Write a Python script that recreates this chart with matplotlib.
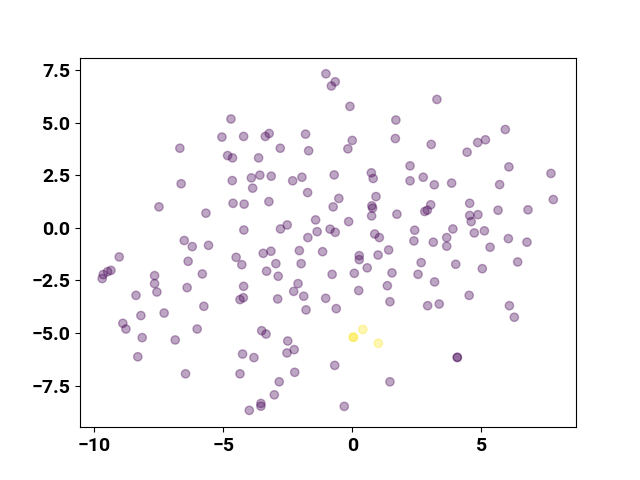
import numpy as np
import matplotlib
matplotlib.use("Agg")
from matplotlib import pyplot as plt

# scatter points (x, y), with a cluster label for colour
xs = [-4.70, -5.05, -4.21, -6.68, -4.83, -4.64, -4.65, -6.63, -7.49, -4.62,
      -4.19, -5.67, -4.20, -6.51, -6.20, -5.57, -9.03, -4.50, -4.28, -6.36,
      -9.35, -9.48, -9.65, -9.69, -7.66, -7.66, -7.57, -5.81, -6.40, -8.38,
      -4.21, -4.35, -4.22, -5.75, -8.19, -7.29, -8.89, -8.77, -8.14, -6.86,
      -6.01, -8.31, -6.46, -4.25, -4.35,
      -1.02, -0.66, -0.81, -0.09, 1.69, 1.67, -3.37, -3.22, -1.81, -2.79,
      -1.69, 0.00, -0.17, -3.63, 2.24, -3.91, -3.58, -3.14, -2.31, -1.95,
      -0.70, 0.74, 0.81,
      -3.86, -1.73, -3.23, -0.52, -0.74, 0.92, 0.76, 0.79, 0.75, 1.73,
      -2.78, -2.52, -1.42, -0.14, -1.36, -1.72, -0.86, -0.66, 0.87, 1.05,
      -3.45, -3.15, -2.05, -1.15, -2.96, -1.98, -3.32, -2.87, 0.27, 0.27,
      1.00, 1.41, 0.58, -0.78, 0.08, 1.54, -2.10, -2.27, -1.88, -2.89,
      -1.03, 0.25, 1.36, 1.46,
      -1.79, -0.62, -3.51, -3.34, -2.50, -2.53, -2.25, -3.81, -2.23, -2.83,
      -3.02, -3.54, -3.54, -3.99, -0.68, -0.31, 1.46,
      3.28, 5.93, 3.06, 4.86, 5.16, 4.45, 6.07, 7.70, 2.75, 2.24,
      3.18, 3.85, 5.71, 7.79, 3.04, 2.81, 2.91, 4.55, 4.55, 4.61,
      4.87, 5.65, 6.81, 2.42, 2.39, 3.90, 3.66, 3.66, 4.73, 5.12,
      3.14, 5.34, 6.05, 6.77, 2.67, 2.55, 4.01, 5.04, 6.41, 3.19,
      4.53, 2.92, 3.37, 6.09, 6.28, 4.07, 4.07,
      0.04, 0.04, 0.41, 1.01]
ys = [5.18, 4.32, 4.35, 3.79, 3.44, 3.33, 2.25, 2.10, 1.00, 1.17,
      1.13, 0.70, -0.10, -0.60, -0.89, -0.83, -1.38, -1.40, -1.75, -1.59,
      -2.02, -2.08, -2.22, -2.41, -2.27, -2.65, -3.05, -2.19, -2.84, -3.21,
      -2.78, -3.41, -3.32, -3.73, -4.17, -4.05, -4.54, -4.81, -5.22, -5.33,
      -4.81, -6.13, -6.94, -6.00, -6.94,
      7.33, 6.95, 6.75, 5.78, 5.13, 4.25, 4.35, 4.49, 4.46, 3.79,
      3.67, 4.16, 3.76, 3.33, 2.95, 2.38, 2.51, 2.46, 2.24, 2.41,
      2.52, 2.62, 2.35,
      1.89, 1.68, 1.25, 1.40, 1.00, 1.49, 1.05, 0.94, 0.57, 0.65,
      -0.05, 0.14, 0.38, 0.30, -0.18, -0.46, -0.06, -0.21, -0.29, -0.46,
      -1.21, -1.11, -1.08, -1.13, -1.70, -1.70, -2.06, -2.30, -1.32, -1.51,
      -1.29, -1.05, -1.90, -2.21, -2.16, -2.14, -2.65, -3.02, -3.25, -3.38,
      -3.35, -2.98, -2.75, -3.51,
      -3.90, -3.84, -4.89, -5.05, -5.38, -5.95, -5.79, -6.17, -6.87, -7.32,
      -7.94, -8.35, -8.48, -8.68, -6.54, -8.49, -7.32,
      6.11, 4.68, 3.97, 4.06, 4.19, 3.60, 2.90, 2.59, 2.41, 2.24,
      2.05, 2.13, 2.06, 1.35, 1.10, 0.78, 0.84, 1.17, 0.59, 0.30,
      0.63, 0.84, 0.86, -0.11, -0.62, -0.05, -0.46, -0.87, -0.24, -0.14,
      -0.68, -0.92, -0.51, -0.68, -1.65, -2.21, -1.73, -1.94, -1.62, -2.57,
      -3.21, -3.70, -3.62, -3.70, -4.25, -6.16, -6.16,
      -5.20, -5.20, -4.83, -5.49]
labels = [0] * (len(xs) - 4) + [1, 1, 1, 1]

plt.rcParams['font.family'] = ['Roboto', 'DejaVu Sans']
plt.rcParams['font.weight'] = 'bold'
plt.rcParams['font.size'] = 14

fig, ax = plt.subplots(figsize=(6.4, 4.8), dpi=100)
ax.scatter(xs, ys, c=labels, cmap='viridis', alpha=0.35)
ax.set_xlim(-10.55, 8.67)
ax.set_ylim(-9.48, 8.1)
ax.set_xticks([-10, -5, 0, 5])
ax.set_yticks([-7.5, -5.0, -2.5, 0.0, 2.5, 5.0, 7.5])

fig.savefig('out.png')
